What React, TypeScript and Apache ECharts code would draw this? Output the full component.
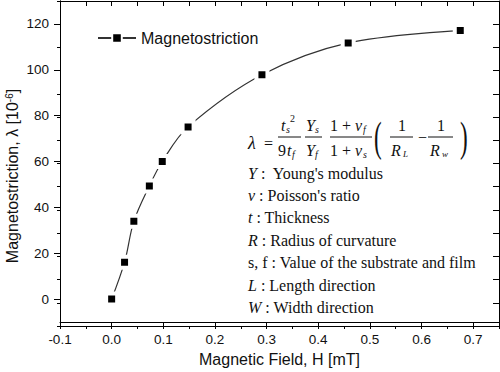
import React, { useEffect, useRef } from "react";
import * as echarts from "echarts";

const fieldH = [0, 0.025, 0.043, 0.073, 0.098, 0.148, 0.291, 0.458, 0.675];
const lambdaVals = [0, 16.1, 33.9, 49.3, 60, 75.1, 97.8, 111.7, 117.1];
const xMajorTicks = [-0.1, 0, 0.1, 0.2, 0.3, 0.4, 0.5, 0.6, 0.7];
const yMajorTicks = [0, 20, 40, 60, 80, 100, 120];
const seriesName = "Magnetostriction";
const xTitle = "Magnetic Field, H [mT]";
const legendLines = [
  "{i|Y} :  Young's modulus",
  "{i|ν} : Poisson's ratio",
  "{i|t} : Thickness",
  "{i|R} : Radius of curvature",
  "s, f : Value of the substrate and film",
  "{i|L} : Length direction",
  "{i|W} : Width direction",
];

const SANS = 'Arial, "Liberation Sans", Helvetica, sans-serif';
const SERIF = '"Times New Roman", "Liberation Serif", serif';

type Piece = [string, number, number, number, boolean];
const formulaPieces: Piece[] = [
  ["λ", 248, 143, 18, true],
  ["=", 264, 143, 16, false],
  ["t", 281, 125, 16, true],
  ["s", 286, 129, 10, true],
  ["2", 290, 118, 10, false],
  ["9", 278, 150, 16, false],
  ["t", 287, 150, 16, true],
  ["f", 292, 154, 10, true],
  ["Y", 306, 125, 16, true],
  ["s", 315, 129, 10, true],
  ["Y", 306, 150, 16, true],
  ["f", 315, 154, 10, true],
  ["1 + ", 330, 125, 16, false],
  ["ν", 355, 125, 16, true],
  ["f", 363, 129, 10, true],
  ["1 + ", 330, 150, 16, false],
  ["ν", 355, 150, 16, true],
  ["s", 363, 154, 10, true],
  ["1", 398, 125, 16, false],
  ["R", 391, 150, 16, true],
  ["L", 403, 154, 9, true],
  ["−", 418, 137, 16, false],
  ["1", 437, 125, 16, false],
  ["R", 430, 150, 16, true],
  ["w", 442, 154, 9, true],
];
const parens: [string, number][] = [
  ["(", 374],
  [")", 460],
];
const fractionBars: [number, number, number][] = [
  [278, 301, 137],
  [305, 322, 137],
  [330, 372, 137],
  [390, 413, 137],
  [428, 453, 137],
];

export default function App() {
  const ref = useRef<HTMLDivElement>(null);
  useEffect(() => {
    document.body.style.margin = "0";
    const chart = echarts.init(ref.current!, null, { renderer: "svg" });
    const grid = { left: 60, right: 1, top: 1, bottom: 46, containLabel: false };
    const axisLine = { show: true, onZero: false, lineStyle: { color: "#000", width: 1 } };
    const graphics: any[] = [];
    formulaPieces.forEach(([t, x, y, s, it]) => {
      graphics.push({
        type: "text",
        x,
        y,
        style: {
          text: t,
          fontFamily: SERIF,
          fontSize: s,
          fontStyle: it ? "italic" : "normal",
          fill: "#111",
          verticalAlign: "middle",
          align: "left",
        },
      });
    });
    parens.forEach(([t, x]) => {
      graphics.push({
        type: "text",
        x,
        y: 137,
        scaleX: 0.55,
        style: {
          text: t,
          fontFamily: SERIF,
          fontSize: 42,
          fill: "#111",
          verticalAlign: "middle",
          align: "left",
        },
      });
    });
    fractionBars.forEach(([x1, x2, y]) => {
      graphics.push({
        type: "line",
        shape: { x1, y1: y, x2, y2: y },
        style: { stroke: "#111", lineWidth: 1 },
      });
    });
    legendLines.forEach((t, i) => {
      graphics.push({
        type: "text",
        x: 248,
        y: 173 + i * 22.4,
        style: {
          text: t,
          fontFamily: SERIF,
          fontSize: 16,
          fill: "#111",
          verticalAlign: "middle",
          rich: { i: { fontStyle: "italic", fontFamily: SERIF, fontSize: 16 } },
        },
      });
    });
    graphics.push({
      type: "text",
      x: 12,
      y: 176,
      rotation: Math.PI / 2,
      style: {
        text: "Magnetostriction, λ [10{sup|-6}]",
        fontFamily: SANS,
        fontSize: 16,
        fill: "#111",
        align: "center",
        verticalAlign: "middle",
        rich: { sup: { fontSize: 10, fontFamily: SANS, verticalAlign: "top", fill: "#111" } },
      },
    });

    chart.setOption({
      animation: false,
      backgroundColor: "#fff",
      grid: [grid, grid, grid],
      legend: {
        left: 97,
        top: 30,
        padding: 0,
        itemWidth: 38,
        itemHeight: 12,
        itemGap: 5,
        textStyle: { fontFamily: SANS, fontSize: 16, color: "#111" },
        data: [seriesName],
      },
      xAxis: [
        {
          type: "value",
          gridIndex: 0,
          position: "bottom",
          min: -0.1,
          max: 0.75,
          interval: 0.05,
          axisLine,
          axisTick: { show: true, length: 6, customValues: xMajorTicks, lineStyle: { color: "#000" } },
          axisLabel: {
            customValues: xMajorTicks,
            formatter: (v: number) => v.toFixed(1),
            fontFamily: SANS,
            fontSize: 13.5,
            color: "#111",
            margin: 10,
          },
          splitLine: { show: false },
          name: xTitle,
          nameLocation: "middle",
          nameGap: 29,
          nameTextStyle: { fontFamily: SANS, fontSize: 16, color: "#111" },
        },
        {
          type: "value",
          gridIndex: 1,
          position: "bottom",
          min: -0.1,
          max: 0.75,
          interval: 0.05,
          axisLine,
          axisTick: { show: true, length: 3, lineStyle: { color: "#000" } },
          axisLabel: { show: false },
          splitLine: { show: false },
        },
        {
          type: "value",
          gridIndex: 2,
          position: "top",
          min: -0.1,
          max: 0.75,
          interval: 0.05,
          axisLine,
          axisTick: { show: true, inside: true, length: 5, lineStyle: { color: "#000" } },
          axisLabel: { show: false },
          splitLine: { show: false },
        },
      ],
      yAxis: [
        {
          type: "value",
          gridIndex: 0,
          position: "left",
          min: -10,
          max: 130,
          interval: 10,
          axisLine,
          axisTick: { show: true, length: 6, customValues: yMajorTicks, lineStyle: { color: "#000" } },
          axisLabel: {
            customValues: yMajorTicks,
            fontFamily: SANS,
            fontSize: 13.5,
            color: "#111",
            margin: 11,
          },
          splitLine: { show: false },
        },
        {
          type: "value",
          gridIndex: 1,
          position: "left",
          min: -10,
          max: 130,
          interval: 10,
          axisLine,
          axisTick: { show: true, length: 3, lineStyle: { color: "#000" } },
          axisLabel: { show: false },
          splitLine: { show: false },
        },
        {
          type: "value",
          gridIndex: 2,
          position: "right",
          min: -10,
          max: 130,
          interval: 10,
          axisLine,
          axisTick: { show: true, inside: true, length: 6, lineStyle: { color: "#000" } },
          axisLabel: { show: false },
          splitLine: { show: false },
        },
      ],
      series: [
        {
          name: seriesName,
          type: "line",
          xAxisIndex: 0,
          yAxisIndex: 0,
          data: fieldH.map((x, i) => [x, lambdaVals[i]]),
          smooth: 0.35,
          symbol: "rect",
          symbolSize: 11,
          lineStyle: { color: "#333", width: 1.2 },
          itemStyle: { color: "#000", borderColor: "#fff", borderWidth: 4 },
        },
      ],
      graphic: graphics,
    });
    return () => chart.dispose();
  }, []);
  return (
    <div
      ref={ref}
      style={{ position: "absolute", left: 0, top: 0, width: 500, height: 372 }}
    />
  );
}
